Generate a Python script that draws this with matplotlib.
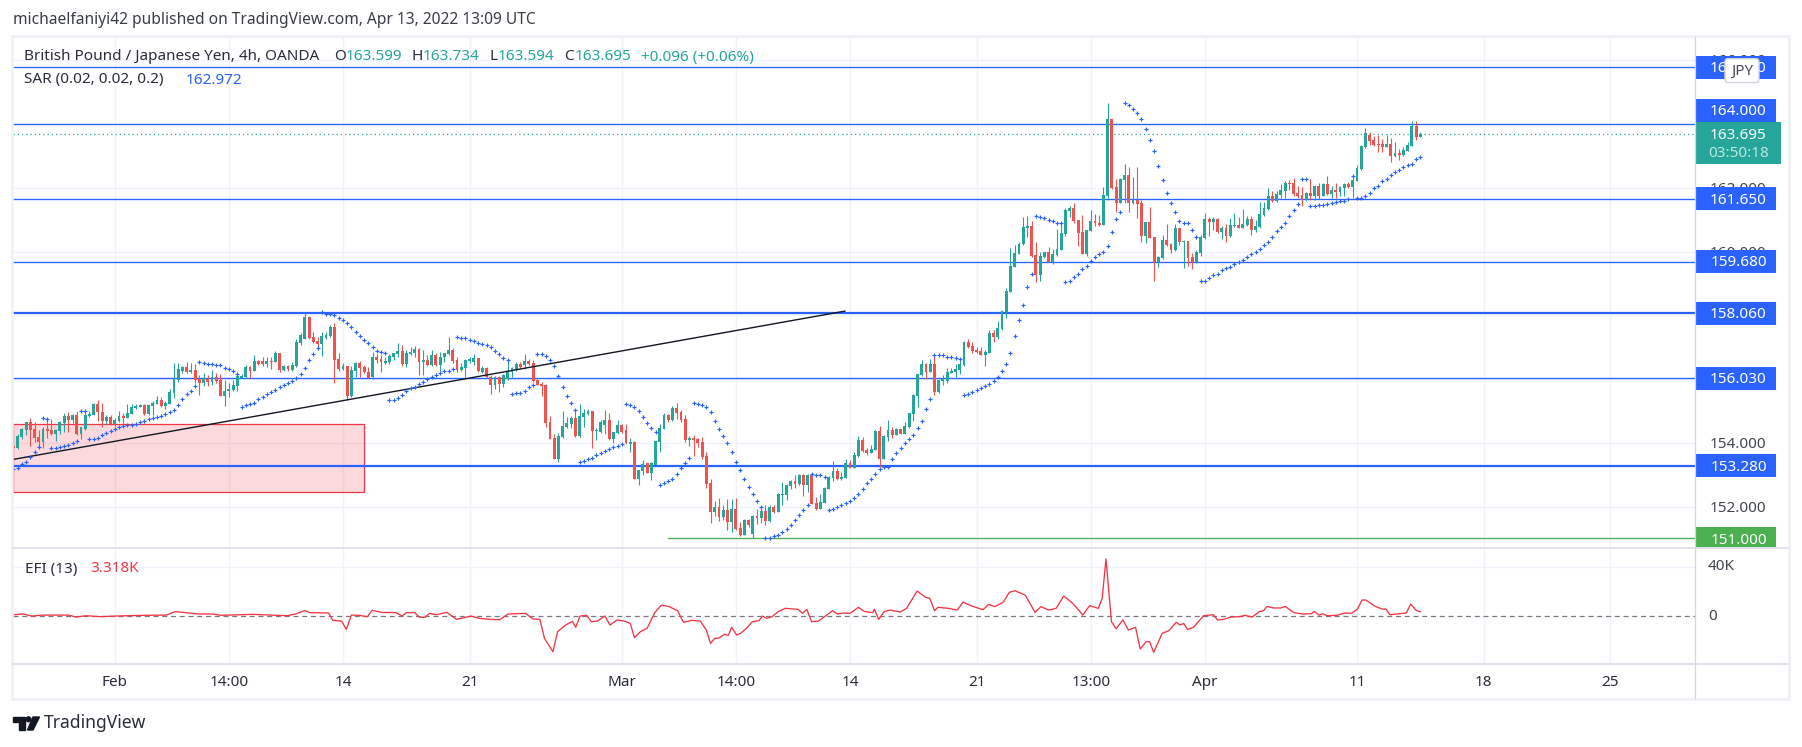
import matplotlib
matplotlib.use('Agg')
import matplotlib.pyplot as plt
from matplotlib.patches import Rectangle, FancyBboxPatch, Polygon, Circle
import numpy as np

W, H = 1802, 747

opens = [
    153.91,153.83,154.17,154.40,154.64,154.43,154.17,154.03,154.43,154.40,
    154.29,154.37,154.61,154.84,154.71,154.87,154.28,154.43,154.85,154.88,
    155.22,154.96,154.67,154.80,154.58,154.68,154.84,154.78,154.90,155.09,
    155.13,155.18,154.89,155.17,155.22,155.34,155.15,155.22,155.57,155.96,
    156.26,156.37,156.22,156.28,156.01,155.88,156.00,155.91,156.07,155.96,
    155.48,155.63,155.65,155.78,156.04,156.06,156.38,156.26,156.57,156.56,
    156.46,156.56,156.54,156.82,156.28,156.41,156.28,156.41,157.14,157.25,
    157.95,157.32,157.19,157.11,157.28,157.35,157.64,156.62,156.32,156.40,
    155.48,156.26,156.50,156.37,156.21,156.06,156.68,156.62,156.51,156.55,
    156.69,156.79,156.88,156.47,156.79,156.82,156.93,156.54,156.59,156.45,
    156.76,156.45,156.69,156.79,156.91,156.59,156.28,156.34,156.56,156.55,
    156.65,156.23,156.35,156.07,155.81,156.07,155.85,155.99,156.21,156.28,
    156.47,156.44,156.57,156.50,155.97,155.85,155.81,154.64,154.15,153.48,
    154.19,154.49,154.60,154.78,154.21,154.82,154.91,155.00,154.38,
    154.33,154.56,154.71,154.12,154.30,154.56,154.40,153.97,154.03,152.87,
    153.12,153.36,153.06,153.30,154.04,154.43,154.87,154.71,155.09,154.97,
    154.74,154.09,154.14,154.12,154.01,153.59,152.74,151.84,151.98,151.67,
    151.89,151.53,151.92,151.32,151.11,151.58,151.13,151.70,151.64,151.86,
    151.55,151.99,151.84,152.37,152.36,152.65,152.80,152.71,152.99,152.68,
    152.99,152.10,151.92,152.11,152.55,152.90,153.12,152.87,152.90,153.36,
    153.22,153.59,154.08,153.78,153.68,153.78,154.37,153.49,154.19,154.40,
    154.25,154.43,154.29,154.50,154.90,155.47,156.13,156.47,156.22,156.47,
    155.59,155.95,155.94,156.19,156.22,156.28,156.44,157.16,157.04,156.91,
    156.88,156.76,156.82,157.45,157.32,
    157.57,158.10,158.73,159.51,159.92,160.23,160.74,160.80,159.89,159.26,
    159.83,159.98,159.67,159.89,160.05,160.55,161.27,161.36,160.99,160.61,
    159.91,160.64,160.96,160.91,160.83,161.74,164.16,162.02,161.52,162.24,
    162.40,161.51,161.61,161.52,160.49,160.92,160.45,159.67,159.79,160.36,
    160.23,160.05,160.74,160.30,160.33,159.83,159.67,159.95,160.42,161.02,
    160.92,161.02,160.61,160.74,160.49,160.80,160.83,160.74,160.83,161.02,
    160.67,160.77,161.14,161.33,161.74,161.58,161.77,161.90,162.15,162.15,
    161.83,161.77,161.61,161.83,161.74,162.05,161.74,162.12,161.80,161.93,
    161.87,161.99,162.12,162.02,162.21,162.59,163.28,163.67,163.50,163.37,
    163.37,163.28,163.37,163.00,163.09,163.03,163.15,163.31,163.94,163.599,
]
highs = [
    153.93,154.27,154.45,154.66,154.77,154.66,154.40,154.51,154.74,154.74,
    154.43,154.69,154.95,154.97,154.89,155.01,154.51,155.01,155.01,155.26,
    155.34,155.26,154.87,154.87,154.77,155.00,154.95,155.21,155.22,155.21,
    155.23,155.22,155.22,155.32,155.46,155.45,155.32,155.69,156.49,156.49,
    156.41,156.54,156.49,156.47,156.13,156.18,156.13,156.28,156.18,156.16,
    155.97,155.87,155.97,156.18,156.16,156.43,156.41,156.75,156.60,156.70,
    156.70,156.68,156.89,156.82,156.45,156.44,156.52,157.25,157.43,158.08,
    157.98,157.46,157.31,157.49,157.49,157.69,157.75,156.81,156.49,156.41,
    156.41,156.54,156.57,156.44,156.37,156.86,156.79,156.76,156.68,156.79,
    156.83,157.12,157.07,156.91,157.02,157.04,156.97,156.91,156.76,156.91,
    156.83,156.86,156.83,157.33,156.97,156.68,156.49,156.64,156.68,156.79,
    156.65,156.41,156.37,156.13,156.10,156.10,156.16,156.62,156.39,156.52,
    156.52,156.79,156.62,156.60,155.99,155.92,155.84,154.84,154.28,154.30,
    154.99,154.80,154.84,155.07,155.22,155.05,155.05,155.00,154.46,
    154.71,155.03,154.94,154.35,154.71,154.59,154.59,154.14,154.05,153.15,
    153.46,153.38,153.41,154.06,154.59,154.92,154.90,155.15,155.25,155.03,
    154.87,154.21,154.25,154.15,154.18,153.71,152.86,152.17,152.27,152.05,
    152.24,152.24,152.26,151.52,151.61,151.61,151.74,151.92,152.02,152.05,
    152.05,152.05,152.41,152.78,152.71,152.83,152.99,153.02,153.02,153.01,
    153.04,152.31,152.39,152.60,152.96,153.43,153.20,153.09,153.48,153.46,
    153.71,154.21,154.18,153.83,153.93,154.40,154.53,154.24,154.71,154.50,
    154.46,154.44,154.65,154.93,155.53,156.16,156.60,156.51,156.63,156.76,
    156.00,156.13,156.35,156.35,156.47,156.60,157.18,157.26,157.16,157.02,
    157.01,156.91,157.54,157.54,157.82,
    158.17,158.85,160.11,160.20,160.29,161.08,161.11,160.96,160.29,159.98,
    160.00,160.13,160.07,160.70,160.86,161.35,161.43,161.51,160.99,161.14,
    160.67,161.30,161.18,161.14,162.02,164.66,164.16,162.27,162.30,162.74,
    162.64,162.34,162.64,161.61,160.92,161.39,160.45,159.86,160.52,160.86,
    160.27,160.86,160.74,160.36,160.34,159.95,160.05,160.52,161.21,161.08,
    161.08,161.05,160.80,160.86,161.05,161.21,161.08,161.33,161.11,161.11,
    160.99,161.55,161.55,161.99,161.90,161.90,162.12,162.21,162.24,162.30,
    162.05,162.02,161.87,162.27,162.05,162.15,162.14,162.37,162.05,162.15,
    162.05,162.15,162.18,162.40,162.71,163.34,163.87,163.75,163.62,163.65,
    163.53,163.65,163.56,163.43,163.21,163.27,163.43,164.09,164.09,163.734,
]
lows = [
    153.83,153.81,154.12,154.25,153.91,154.04,153.85,153.85,154.16,154.25,
    154.06,154.28,154.35,154.35,154.61,154.25,154.12,154.40,154.82,154.87,
    154.67,154.48,154.59,154.56,154.53,154.66,154.61,154.77,154.89,155.05,
    155.11,154.87,154.87,154.87,155.21,155.11,155.06,155.21,155.42,155.92,
    156.20,156.20,156.20,155.87,155.50,155.78,155.79,155.81,155.87,155.47,
    155.15,155.45,155.61,155.64,156.03,156.04,156.04,156.25,156.43,156.41,
    156.39,156.31,156.52,156.23,156.24,156.26,156.26,156.39,157.07,157.25,
    157.25,157.12,156.91,156.72,157.25,157.33,155.89,156.26,156.28,155.34,
    155.43,156.07,156.06,156.18,156.02,156.01,156.49,156.23,156.47,156.47,
    156.60,156.68,156.41,156.39,156.76,156.68,156.13,156.13,156.41,156.41,
    156.41,156.26,156.55,156.76,156.49,156.23,156.26,156.07,156.49,156.44,
    156.22,156.18,156.04,155.53,155.68,155.60,155.74,155.97,156.07,156.26,
    156.34,156.31,156.44,155.92,155.80,155.47,154.49,154.11,153.48,153.40,
    154.16,154.46,154.46,154.19,154.19,154.51,154.87,153.85,154.09,
    154.30,154.28,154.09,154.00,154.28,154.32,153.96,153.72,152.85,152.69,
    152.99,153.04,152.83,153.29,153.71,154.42,154.65,154.69,154.76,154.65,
    154.03,153.90,153.59,153.86,153.49,152.58,151.48,151.69,151.55,151.58,
    151.26,151.21,151.26,151.07,151.10,151.35,151.00,151.45,151.47,151.42,
    151.53,151.81,151.83,152.05,152.21,152.54,152.57,152.68,152.33,152.46,
    152.07,151.89,151.91,152.10,152.54,152.81,152.83,152.83,152.89,153.20,
    153.20,153.57,153.72,153.62,153.67,153.76,153.25,153.48,154.06,154.15,
    154.23,154.28,154.28,154.47,154.69,155.12,156.10,156.00,156.21,155.50,
    155.56,155.81,155.89,156.18,156.07,156.16,156.41,156.98,156.82,156.82,
    156.75,156.41,156.82,157.16,157.26,
    157.54,157.93,158.72,159.50,159.91,160.21,160.46,159.84,159.04,159.07,
    159.79,159.66,159.61,159.87,160.05,160.50,161.08,160.89,160.17,159.91,
    159.86,160.63,160.80,160.80,160.82,161.62,161.97,161.24,161.51,161.52,
    161.24,161.49,161.05,160.29,160.27,160.41,159.07,159.51,159.76,160.18,
    159.96,160.03,160.20,159.48,159.54,159.45,159.64,159.86,160.39,160.49,
    160.67,160.58,160.39,160.30,160.47,160.77,160.73,160.73,160.80,160.52,
    160.61,160.74,161.11,161.30,161.55,161.55,161.68,161.68,161.93,161.74,
    161.68,161.43,161.60,161.61,161.61,161.66,161.73,161.77,161.68,161.68,
    161.74,161.74,161.99,161.68,162.20,162.56,163.25,163.34,163.31,163.12,
    163.12,163.27,162.81,162.98,162.87,163.00,163.14,163.30,163.50,163.594,
]
closes = [
    153.85,154.21,154.43,154.64,154.40,154.16,154.02,154.43,154.38,154.27,
    154.40,154.64,154.84,154.71,154.87,154.29,154.48,154.87,154.90,155.22,
    154.96,154.67,154.81,154.58,154.71,154.84,154.78,154.92,155.12,155.16,
    155.18,154.90,155.19,155.26,155.34,155.15,155.26,155.59,156.00,156.32,
    156.37,156.22,156.28,155.98,155.88,156.00,155.91,156.07,155.95,155.48,
    155.64,155.68,155.80,156.09,156.09,156.38,156.25,156.57,156.47,156.47,
    156.57,156.55,156.83,156.27,156.41,156.31,156.44,157.15,157.38,157.95,
    157.28,157.15,157.09,157.35,157.37,157.64,156.61,156.31,156.40,155.48,
    156.28,156.49,156.36,156.21,156.04,156.68,156.60,156.52,156.57,156.71,
    156.81,156.88,156.47,156.82,156.85,156.93,156.54,156.59,156.43,156.76,
    156.44,156.70,156.81,156.90,156.57,156.28,156.37,156.60,156.62,156.65,
    156.25,156.34,156.07,155.81,156.07,155.85,156.13,156.26,156.35,156.47,
    156.37,156.57,156.47,155.94,155.81,155.78,154.61,154.13,153.49,154.21,
    154.53,154.61,154.78,154.21,154.84,154.95,155.00,154.38,154.41,
    154.66,154.71,154.11,154.33,154.56,154.35,153.98,154.02,152.87,153.15,
    153.33,153.06,153.38,154.05,154.46,154.87,154.71,155.09,154.95,154.71,
    154.08,154.14,154.09,154.00,153.57,152.71,151.84,151.98,151.68,151.89,
    151.53,151.92,151.31,151.11,151.58,151.42,151.70,151.64,151.86,151.55,
    151.99,151.84,152.39,152.39,152.68,152.80,152.72,152.99,152.68,152.99,
    152.09,151.91,152.13,152.57,152.92,153.12,152.87,152.93,153.36,153.22,
    153.61,154.08,153.74,153.69,153.81,154.37,153.49,154.21,154.40,154.25,
    154.43,154.29,154.53,154.92,155.50,156.16,156.47,156.22,156.47,155.60,
    155.97,155.99,156.22,156.25,156.32,156.47,157.16,157.01,156.88,156.85,
    156.76,156.85,157.45,157.32,157.60,
    158.13,158.76,159.54,159.95,160.25,160.77,160.80,159.86,159.26,159.86,
    159.98,159.67,159.92,160.08,160.58,161.30,161.36,160.96,160.58,159.92,
    160.67,160.96,160.89,160.83,161.77,164.16,161.99,161.52,162.27,162.40,
    161.53,161.61,161.49,160.49,160.92,160.42,159.68,159.83,160.36,160.20,
    160.05,160.74,160.30,160.33,159.79,159.67,159.98,160.45,161.02,160.92,
    161.02,160.61,160.74,160.49,160.83,160.83,160.74,160.86,161.02,160.67,
    160.80,161.18,161.36,161.74,161.58,161.80,161.93,162.15,162.12,161.80,
    161.74,161.61,161.83,161.74,162.05,161.74,162.12,161.80,161.93,161.87,
    162.02,162.12,162.02,162.24,162.62,163.31,163.71,163.47,163.34,163.34,
    163.28,163.37,163.00,163.09,163.03,163.18,163.34,163.94,163.59,163.695,
]
sar = [
    153.19,153.22,153.33,153.41,153.57,153.72,153.88,154.77,154.75,153.83,
    153.85,153.86,153.89,153.92,154.00,154.05,154.99,154.99,154.11,154.13,
    154.16,154.23,154.30,154.37,154.43,154.50,154.53,154.55,154.56,154.60,
    154.65,154.67,154.74,154.77,154.80,154.84,154.89,154.96,155.02,155.18,
    155.37,155.52,155.64,155.78,156.54,156.50,156.47,156.46,156.44,156.43,
    156.36,156.31,156.24,156.17,155.13,155.18,155.21,155.26,155.37,155.43,
    155.53,155.60,155.65,155.76,155.81,155.88,155.94,156.04,156.17,156.34,
    156.60,156.78,156.96,158.11,158.05,158.03,158.01,157.91,157.85,157.75,
    157.63,157.48,157.36,157.22,157.12,156.99,156.89,156.84,156.82,155.33,
    155.33,155.40,155.51,155.61,155.71,155.76,155.85,155.92,156.01,156.07,
    156.14,156.18,156.24,156.25,156.31,157.31,157.28,157.28,157.22,157.19,
    157.12,157.09,157.07,156.99,156.87,156.79,156.66,156.60,155.52,155.55,
    155.57,155.64,155.75,155.80,156.79,156.79,156.71,156.59,156.40,156.09,
    155.76,155.48,155.24,155.02,153.39,153.42,153.48,153.53,153.61,
    153.67,153.73,153.80,153.86,153.91,153.95,155.21,155.18,155.11,154.99,
    154.80,154.61,154.45,154.33,152.67,152.73,152.79,152.87,153.01,153.20,
    153.36,153.51,155.24,155.21,155.18,155.11,154.96,154.67,154.42,154.20,
    153.98,153.70,153.39,153.14,152.85,152.60,152.38,152.16,151.98,151.00,
    151.00,151.07,151.10,151.19,151.29,151.41,151.57,151.72,151.88,152.04,
    153.02,152.99,152.98,152.93,151.88,151.91,151.98,152.04,152.10,152.16,
    152.26,152.38,152.54,152.73,152.85,153.01,153.17,153.23,153.23,153.48,
    153.67,153.83,153.98,154.11,154.23,154.45,154.67,155.05,155.37,156.75,
    156.75,156.74,156.70,156.68,156.65,156.62,155.49,155.52,155.58,155.65,
    155.71,155.77,155.84,155.93,156.06,
    156.24,156.46,156.81,157.34,157.84,158.31,158.88,159.31,161.11,161.07,
    161.04,160.98,160.95,160.91,160.88,159.03,159.09,159.19,159.31,159.44,
    159.56,159.69,159.82,159.91,160.00,160.16,160.60,161.01,161.23,164.65,
    164.59,164.46,164.33,164.15,163.83,163.49,163.14,162.67,162.23,161.85,
    161.51,161.23,160.95,160.88,160.88,160.66,160.47,159.06,159.09,159.16,
    159.25,159.31,159.41,159.47,159.53,159.60,159.66,159.72,159.82,159.91,
    160.00,160.07,160.19,160.29,160.47,160.63,160.76,160.91,161.10,161.29,
    161.48,162.29,162.26,161.42,161.42,161.45,161.45,161.48,161.51,161.54,
    161.57,161.60,161.64,162.37,161.67,161.67,161.73,161.85,161.98,162.07,
    162.20,162.29,162.39,162.48,162.55,162.64,162.70,162.76,162.89,162.98,
]
efi_bars = [
    0,2.3,4.3,7,13.1,14.8,17.2,20.6,24,30.8,36.2,38.3,41.7,43.7,47.1,49.2,56.6,64.8,66.8,68.9,
    70.2,74.6,75.6,77.7,78.8,80,81.8,83.8,84.9,87.2,90.6,92,93,95,96,97.4,98.5,100.1,102.6,104.9,
    108.3,110.3,113,115.1,117.1,121.2,123,124.6,125.7,127.7,128.8,130.7,132.3,133.1,134.1,135.7,136.8,138.2,140,141.2,
    142.9,144.6,146,147,148.4,150,151.8,153.4,155.2,157.2,158.6,160.6,162.6,164,165,166,167,168.3,169.2,170,
    171.2,172.1,173.5,174.9,176.5,177.3,178.3,179.6,181,182.7,185.7,186.8,187.8,188.9,190.5,192.5,193.9,195,196.6,198,
    200,201.4,203.4,203.8,204.8,206.1,207.5,209.9,211.4,213.9,215.9,216.9,218,218.8,221.4,223.4,224.8,226.8,229.5,230.8,
    232.3,234.3,235.7,237,239.5,241.8,243.2,245,246.8,248.6,250.7,252,253.1,254.7,256.8,257.7,258.6,259.9,261,262.6,
    263.9,265.6,266.7,268.1,268.9,269.9,271.9,273.5,275.2,276.1,277,277.9,279.3,281.7,284,285,286.8,288.1,290.2,291.5,
    293.2,294.9,295.9,296.7,298.3,300,301,303.1,305.1,307.2,307.9,309,309.9,310.9,313.3,315,316.7,318.1,319.2,320.1,
    322.2,323.9,324.9,325.8,329.7,330.7,332.1,333,
]
efi_values = [
    0.8,1.4,-0.3,0.5,0.5,-1.1,0,-0.8,-0.3,0.3,0.5,3.3,2.2,1.4,1.4,0.3,1.1,0,1.4,4.1,
    2.5,2.2,-3.8,-4.4,-11.2,0.5,0.3,-0.8,4.4,2.7,2.5,-0.3,2.5,2.5,-1.1,-1.4,1.9,0.8,2.7,-3,
    -0.3,-2.2,-3,-3.3,1.4,1.9,-2.7,-3,-18.5,-29.4,-13,-7.6,-4.6,-9.5,-0.3,0.3,-4.9,-4.4,-0.3,-7.6,
    -3.5,-4.4,-6.3,-18,-13,-10.3,2.5,8.7,7.4,4.1,-5.4,-3.8,-4.4,-11.7,-22.6,-18.5,-18.2,-15.2,-16.1,-9.5,
    -15.8,-14.4,-10.3,-4.9,-4,-0.3,-2.2,-0.8,3.3,6,5.2,1.9,5.2,-4.9,-4.4,0.5,4.1,1.4,2.2,1.9,
    6.8,3.5,2.5,5.2,-3,3.3,4.6,3,6,20.1,15,14.2,4.1,6.8,6,4.6,11.1,7.9,4.9,9.2,
    7.4,11.1,19,20.4,16.8,2.7,7.4,4.6,6,16.1,10.1,5.2,0.5,8.2,6,14.2,46.3,-4.9,-10.6,-3.5,
    -11.7,-9.5,-27.2,-21.2,-21.2,-29.9,-14.4,-12.2,-5.4,-7.6,-6.3,-11.2,-9.5,0,0.8,-3.5,-2.7,-1.1,-0.8,0.3,
    -1.1,3.3,4.1,7.6,6.3,6.3,7.6,2.5,1.4,1.6,3.5,0.5,1.6,0,0.3,2.2,1.9,5.2,12.8,12.8,
    7.9,5.4,5.4,0.8,2.2,9.5,4.1,3.3,
]

level_prices = [165.78, 164.0, 161.65, 159.68, 158.06, 156.03, 153.28]
level_labels = ['165.780', '164.000', '161.650', '159.680', '158.060', '156.030', '153.280']
level_widths = [0.95, 0.95, 0.95, 0.95, 1.6, 0.95, 1.6]
price_ticks = [166, 164, 162, 160, 158, 156, 154, 152]
price_tick_labels = ['166.000', '164.000', '162.000', '160.000', '158.000', '156.000', '154.000', '152.000']
time_ticks = [24, 51, 78, 108, 144, 171, 198, 228, 255, 282, 318, 348, 378]
time_labels = ['Feb', '14:00', '14', '21', 'Mar', '14:00', '14', '21', '13:00', 'Apr', '11', '18', '25']
bold_times = ['Feb', 'Mar', 'Apr']
last_price = 163.695
support_price = 151.0
trend_bars = [0, 196.8]
trend_prices = [153.48, 158.13]
zone_bars = [0, 82.9]
zone_prices = [152.45, 154.58]

GREEN = '#26A69A'
RED = '#EF5350'
BLUE = '#2962FF'
EFI_RED = '#F23645'
LABEL_GREEN = '#4CAF50'
GRID = '#F0F3FA'
BORDER = '#E0E3EB'
TEXT = '#2A2E39'
SCALE_TEXT = '#434651'
plt.rcParams['font.family'] = ['Noto Sans', 'DejaVu Sans']


def px_axes(left, top, right, bottom):
    return fig.add_axes([left / W, 1 - bottom / H, (right - left) / W, (bottom - top) / H])


def px_text(x, y, s, size=11, color=TEXT, **kwargs):
    fig.text(x / W, 1 - y / H, s, fontsize=size, color=color, va='center', **kwargs)


fig = plt.figure(figsize=(W / 100, H / 100), dpi=100, facecolor='white')

# pixel frame of the panes, one unit on the x axis is one 4h bar
bar_px = 4.225
pane_left, pane_right = 13.4, 1695
x_limits = (0, (pane_right - pane_left) / bar_px)
price_limits = (164 - (547 - 124) / 31.88, 164 + (124 - 37) / 31.88)
efi_limits = (-(663 - 615.7) / 1.225, (615.7 - 548) / 1.225)

ax = px_axes(pane_left, 37, pane_right, 547)
ax_efi = px_axes(pane_left, 548, pane_right, 663)
ax_scale = px_axes(pane_right, 37, 1788, 547)

for a in (ax, ax_efi, ax_scale):
    for spine in a.spines.values():
        spine.set_visible(False)
    a.set_xticks([])
    a.set_yticks([])

ax.set_xlim(x_limits)
ax.set_ylim(price_limits)
ax_efi.set_xlim(x_limits)
ax_efi.set_ylim(efi_limits)
ax_scale.set_xlim(0, 93)
ax_scale.set_ylim(price_limits)

# grid
for t in time_ticks:
    ax.axvline(t, color=GRID, lw=1, zorder=0)
    ax_efi.axvline(t, color=GRID, lw=1, zorder=0)
for p in price_ticks:
    ax.axhline(p, color=GRID, lw=1, zorder=0)
ax_efi.axhline(40, color=GRID, lw=1, zorder=0)

# zone and trend line
ax.add_patch(Rectangle((zone_bars[0], zone_prices[0]), zone_bars[1] - zone_bars[0], zone_prices[1] - zone_prices[0],
                       facecolor='#F23645', alpha=0.19, edgecolor='none', zorder=1))
ax.add_patch(Rectangle((zone_bars[0], zone_prices[0]), zone_bars[1] - zone_bars[0], zone_prices[1] - zone_prices[0],
                       facecolor='none', edgecolor='#F23645', lw=0.9, zorder=1.1))

# levels
for price, lw in zip(level_prices, level_widths):
    ax.axhline(price, color=BLUE, lw=lw, zorder=2)
ax.plot([154.9, x_limits[1]], [support_price, support_price], color=LABEL_GREEN, lw=0.95, zorder=2)
ax.axhline(last_price, color=GREEN, lw=0.9, ls=(0, (1, 2.4)), zorder=2)

# candles
x = np.arange(len(opens))
o, h, l, c = map(np.array, (opens, highs, lows, closes))
colors = np.where(c >= o, GREEN, RED)
ax.vlines(x, l, h, colors=colors, lw=0.8, zorder=3)
ax.bar(x, np.maximum(np.abs(c - o), 0.03), bottom=np.minimum(o, c), width=0.68, color=colors, linewidth=0, zorder=3.1)

ax.plot(trend_bars, trend_prices, color='#131722', lw=1.0, zorder=3.5)
ax.plot(x, sar, ls='none', marker='+', ms=2.7, mew=0.85, color=BLUE, zorder=4)

# EFI pane
ax_efi.axhline(0, color='#787B86', lw=0.9, ls=(0, (4, 3)), zorder=1)
ax_efi.plot(efi_bars, efi_values, color=EFI_RED, lw=0.95, zorder=2)

# price scale
for p, label in zip(price_ticks, price_tick_labels):
    ax_scale.text(15, p - 0.05, label, fontsize=11, color=SCALE_TEXT, va='center', clip_on=True, zorder=1)

box_h = 23 / 31.88
for price, label in zip(level_prices, level_labels):
    # the 164 label sits above its line, pushed up by the last price box
    centre = 164.42 if label == '164.000' else price
    ax_scale.add_patch(Rectangle((0, centre - box_h / 2), 81, box_h, facecolor=BLUE, edgecolor='none', zorder=2))
    ax_scale.text(43.5, centre - 0.04, label, fontsize=11, color='white', ha='center', va='center', zorder=3)
ax_scale.add_patch(Rectangle((0, support_price - box_h / 2), 81, box_h, facecolor=LABEL_GREEN, edgecolor='none', zorder=2))
ax_scale.text(43.5, support_price - 0.05, '151.000', fontsize=11, color='white', ha='center', va='center', clip_on=True, zorder=3)

# last price box with the bar countdown
ax_scale.add_patch(Rectangle((0, 164 - (164 - 124) / 31.88), 86, 42.3 / 31.88, facecolor=GREEN, edgecolor='none', zorder=4))
ax_scale.text(43.5, 163.64, '163.695', fontsize=11, color='white', ha='center', va='center', zorder=5)
ax_scale.text(43.5, 163.07, '03:50:18', fontsize=11, color='#BFE5E1', ha='center', va='center', zorder=5)

# currency badge
ax_scale.add_patch(FancyBboxPatch((30, 165.30), 34, 0.75, boxstyle='round,pad=0,rounding_size=3', mutation_aspect=0.03,
                                  facecolor='white', edgecolor='#D1D4DC', lw=1, zorder=6))
ax_scale.text(47, 165.66, 'JPY', fontsize=11, color='#4A4D57', ha='center', va='center', zorder=7)

# EFI scale and time axis
px_text(1708, 567, '40K', color=SCALE_TEXT)
px_text(1708, 616, '0', color=SCALE_TEXT)
for t, label in zip(time_ticks, time_labels):
    weight = 'bold' if label in bold_times else 'normal'
    px_text(pane_left + t * bar_px, 683, label, ha='center', fontweight=weight)

# borders
fig.add_artist(plt.Line2D([13.4 / W, 1788 / W], [1 - 547.5 / H] * 2, color=BORDER, lw=1.4))
fig.add_artist(plt.Line2D([13.4 / W, 1788 / W], [1 - 663.5 / H] * 2, color=BORDER, lw=1.4))
fig.add_artist(plt.Line2D([pane_right / W] * 2, [1 - 37 / H, 1 - 698 / H], color='#D6D8DF', lw=0.9))
fig.add_artist(Rectangle((12.3 / W, 1 - 699 / H), (1789 - 12.3) / W, (699 - 36) / H, transform=fig.transFigure,
                         facecolor='none', edgecolor='#F0F0F5', lw=1.9))

# header and legend
px_text(13, 20, 'michaelfaniyi42 published on TradingView.com, Apr 13, 2022 13:09 UTC', size=11.2, color='#3A3D46')
px_text(24, 57, 'British Pound / Japanese Yen, 4h, OANDA')
for pos, s, col in [(334, 'O', TEXT), (345.6, '163.599', GREEN), (411.4, 'H', TEXT), (422.5, '163.734', GREEN),
                    (489, 'L', TEXT), (497.5, '163.594', GREEN), (563.7, 'C', TEXT), (574.4, '163.695', GREEN),
                    (641, '+0.096 (+0.06%)', GREEN)]:
    px_text(pos, 57, s, color=col)
px_text(24, 80, 'SAR (0.02, 0.02, 0.2)')
px_text(186, 80, '162.972', color=BLUE)
px_text(24.7, 569, 'EFI (13)')
px_text(90, 569, '3.318K', color=EFI_RED)

# logo
logo = fig.add_axes([0, 0, 1, 1], facecolor='none', zorder=10)
logo.set_xlim(0, W)
logo.set_ylim(H, 0)
logo.axis('off')
logo.add_patch(Polygon([(13, 717), (25, 717), (25, 730), (18.5, 730), (18.5, 721.5), (13, 721.5)], color='#131722'))
logo.add_patch(Circle((28.5, 719.3), 2.4, color='#131722'))
logo.add_patch(Polygon([(33, 717), (39.5, 717), (33, 730), (27.5, 730)], color='#131722'))
fig.text(44 / W, 1 - 723 / H, 'TradingView', fontsize=12.6, color=TEXT, va='center', family='Noto Sans')

fig.savefig('out.png', dpi=100)
